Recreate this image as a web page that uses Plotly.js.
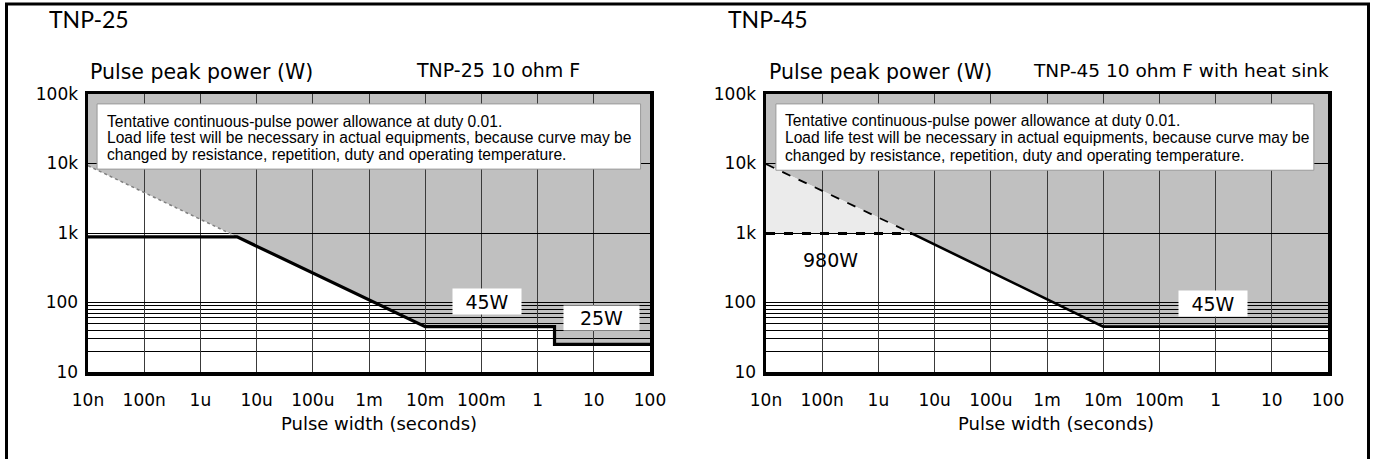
<!DOCTYPE html>
<html><head><meta charset="utf-8">
<script src="https://cdn.plot.ly/plotly-3.0.1.min.js"></script>
<style>html,body{margin:0;padding:0;background:#fff;}#chart{width:1375px;height:459px;}</style>
</head><body><div id="chart"></div>
<script>
// ---- tick labels ----
const xTickVals = [1e-8, 1e-7, 1e-6, 1e-5, 1e-4, 1e-3, 1e-2, 1e-1, 1, 10, 100];
const xTickText = ['10n', '100n', '1u', '10u', '100u', '1m', '10m', '100m', '1', '10', '100'];
const yTickVals = [10, 100, 1000, 10000, 100000];
const yTickText = ['10', '100', '1k', '10k', '100k'];
const yMinorVals = [20, 30, 40, 50, 60, 70, 80, 90];

// ---- TNP-25 (10 ohm F) ----
const tnp25RatedX = [1e-8, 4.5e-6, 1e-2, 2, 2, 100];
const tnp25RatedY = [880, 880, 45, 45, 25, 25];
const tnp25DutyX = [1e-8, 4.5e-6];
const tnp25DutyY = [9300, 880];

// ---- TNP-45 (10 ohm F with heat sink) ----
const tnp45RatedX = [4e-6, 1e-2, 100];
const tnp45RatedY = [980, 45, 45];
const tnp45DutyX = [1e-8, 4e-6];
const tnp45DutyY = [9800, 980];
const tnp45CapX = [1e-8, 4e-6];
const tnp45CapY = [980, 980];

const X_MIN = 1e-8, X_MAX = 100, Y_MIN = 10, Y_MAX = 100000;

function fmt(v) { return v.toFixed(12).replace(/0+$/, '').replace(/\.$/, ''); }
function pathOf(xs, ys) {
  return 'M' + xs.map((x, i) => fmt(x) + ',' + fmt(ys[i])).join('L') + 'Z';
}
function grayRegion(dx, dy, rx, ry) {
  const lastX = dx[dx.length - 1];
  const xs = [X_MIN].concat(dx), ys = [Y_MAX].concat(dy);
  rx.forEach((x, i) => { if (x > lastX) { xs.push(x); ys.push(ry[i]); } });
  xs.push(X_MAX); ys.push(Y_MAX);
  return pathOf(xs, ys);
}

const FONT = 'DejaVu Sans, Arial, sans-serif';
const NOTEFONT = 'Liberation Sans, Arial, sans-serif';
const L = Math.log10;

const traces = [
  {x: tnp25DutyX, y: tnp25DutyY, xaxis: 'x', yaxis: 'y', mode: 'lines',
   line: {color: '#808080', width: 1.5, dash: 'dot'}, hoverinfo: 'skip'},
  {x: tnp25RatedX, y: tnp25RatedY, xaxis: 'x', yaxis: 'y', mode: 'lines',
   line: {color: '#000', width: 3.2}, hoverinfo: 'skip'},
  {x: tnp45CapX, y: tnp45CapY, xaxis: 'x2', yaxis: 'y2', mode: 'lines',
   line: {color: '#000', width: 3, dash: 'dash'}, hoverinfo: 'skip'},
  {x: tnp45DutyX, y: tnp45DutyY, xaxis: 'x2', yaxis: 'y2', mode: 'lines',
   line: {color: '#000', width: 1.8, dash: 'dash'}, hoverinfo: 'skip'},
  {x: tnp45RatedX, y: tnp45RatedY, xaxis: 'x2', yaxis: 'y2', mode: 'lines',
   line: {color: '#000', width: 2.6}, hoverinfo: 'skip'}
];

function xaxis(domain, anchor) {
  return {domain: domain, anchor: anchor, type: 'log', range: [L(X_MIN), L(X_MAX)],
    tickmode: 'array', tickvals: xTickVals, ticktext: xTickText, ticks: '',
    ticklabelstandoff: 10,
    tickfont: {family: FONT, size: 17, color: '#000'},
    showgrid: true, gridcolor: '#3a3a3a', gridwidth: 1,
    showline: true, linecolor: '#000', linewidth: 3.5, mirror: true, zeroline: false, fixedrange: true};
}
function yaxis(domain, anchor) {
  return {domain: domain, anchor: anchor, type: 'log', range: [L(Y_MIN), L(Y_MAX)],
    tickmode: 'array', tickvals: yTickVals, ticktext: yTickText, ticks: '',
    ticklabelstandoff: 3,
    tickfont: {family: FONT, size: 17, color: '#000'},
    showgrid: true, gridcolor: '#000', gridwidth: 1,
    minor: {tickmode: 'array', tickvals: yMinorVals, showgrid: true, gridcolor: '#000', gridwidth: 1, ticks: ''},
    showline: true, linecolor: '#000', linewidth: 3.5, mirror: true, zeroline: false, fixedrange: true};
}

const W = 1375, H = 459;
const px = v => v / W, py = v => 1 - v / H;
const yDom = [py(372), py(94)];

const shapes = [
  {type: 'path', xref: 'x', yref: 'y', layer: 'below', line: {width: 0}, fillcolor: '#c0c0c0',
   path: grayRegion(tnp25DutyX, tnp25DutyY, tnp25RatedX, tnp25RatedY)},
  {type: 'path', xref: 'x2', yref: 'y2', layer: 'below', line: {width: 0}, fillcolor: '#c0c0c0',
   path: grayRegion(tnp45DutyX, tnp45DutyY, tnp45RatedX, tnp45RatedY)},
  {type: 'path', xref: 'x2', yref: 'y2', layer: 'below', line: {width: 0}, fillcolor: '#ebebeb',
   path: pathOf(tnp45DutyX.concat([tnp45CapX[0]]), tnp45DutyY.concat([tnp45CapY[0]]))},
  {type: 'rect', xref: 'x', yref: 'y', layer: 'above', x0: 1.45e-8, x1: 68, y0: 8300, y1: 72000,
   fillcolor: '#fff', line: {color: '#9a9a9a', width: 1}},
  {type: 'rect', xref: 'x2', yref: 'y2', layer: 'above', x0: 1.5e-8, x1: 56, y0: 8000, y1: 72000,
   fillcolor: '#fff', line: {color: '#9a9a9a', width: 1}},
  {type: 'rect', xref: 'paper', yref: 'paper', layer: 'above', x0: px(6.5), x1: px(1368.5), y0: -0.2, y1: py(4),
   fillcolor: 'rgba(0,0,0,0)', line: {color: '#000', width: 3}}
];

const NOTE = ['Tentative continuous-pulse power allowance at duty 0.01.',
  'Load life test will be necessary in actual equipments, because curve may be',
  'changed by resistance, repetition, duty and operating temperature.'];

const ann = [];
function txt(o) { ann.push(Object.assign({showarrow: false, font: {family: FONT, size: 18, color: '#000'}}, o)); }

// headings
txt({xref: 'paper', yref: 'paper', x: px(47), y: py(19), xanchor: 'left', yanchor: 'middle', text: 'TNP-25',
     font: {family: 'Lato, Noto Sans, sans-serif', size: 23, color: '#000'}});
txt({xref: 'paper', yref: 'paper', x: px(726), y: py(19), xanchor: 'left', yanchor: 'middle', text: 'TNP-45',
     font: {family: 'Lato, Noto Sans, sans-serif', size: 23, color: '#000'}});
txt({xref: 'paper', yref: 'paper', x: px(88), y: py(72), xanchor: 'left', yanchor: 'middle', text: 'Pulse peak power (W)',
     font: {family: FONT, size: 20.5, color: '#000'}});
txt({xref: 'paper', yref: 'paper', x: px(767), y: py(72), xanchor: 'left', yanchor: 'middle', text: 'Pulse peak power (W)',
     font: {family: FONT, size: 20.5, color: '#000'}});
txt({xref: 'paper', yref: 'paper', x: px(414), y: py(70), xanchor: 'left', yanchor: 'middle', text: 'TNP-25 10 ohm F',
     font: {family: FONT, size: 19, color: '#000'}});
txt({xref: 'paper', yref: 'paper', x: px(1031), y: py(70), xanchor: 'left', yanchor: 'middle', text: 'TNP-45 10 ohm F with heat sink',
     font: {family: FONT, size: 18.5, color: '#000'}});
txt({xref: 'paper', yref: 'paper', x: px(379), y: py(423), xanchor: 'center', yanchor: 'middle', text: 'Pulse width (seconds)'});
txt({xref: 'paper', yref: 'paper', x: px(1056), y: py(423), xanchor: 'center', yanchor: 'middle', text: 'Pulse width (seconds)'});

// note boxes
const noteY25 = [4.61, 4.37, 4.13], noteY45 = [4.624, 4.371, 4.119];
NOTE.forEach((t, i) => {
  txt({xref: 'x', yref: 'y', x: -7.70, y: noteY25[i], xanchor: 'left', yanchor: 'middle', text: t,
       font: {family: NOTEFONT, size: 15.6, color: '#000'}});
  txt({xref: 'x2', yref: 'y2', x: -7.695, y: noteY45[i], xanchor: 'left', yanchor: 'middle', text: t,
       font: {family: NOTEFONT, size: 15.6, color: '#000'}});
});

// level labels
const LVL = {family: FONT, size: 19, color: '#000'};
txt({xref: 'x', yref: 'y', x: -0.9, y: 2.016, text: '45W', bgcolor: '#fff', width: 64, height: 21, borderpad: 2, font: LVL});
txt({xref: 'x', yref: 'y', x: 1.13, y: 1.77, text: '25W', bgcolor: '#fff', width: 71, height: 20, borderpad: 2, font: LVL});
txt({xref: 'x2', yref: 'y2', x: -0.05, y: 1.98, text: '45W', bgcolor: '#fff', width: 64, height: 21, borderpad: 2, font: LVL});
txt({xref: 'x2', yref: 'y2', x: -6.86, y: 2.61, text: '980W', font: LVL});

const layout = {
  width: W, height: H, autosize: false,
  margin: {l: 0, r: 0, t: 0, b: 0, pad: 0},
  paper_bgcolor: '#fff', plot_bgcolor: '#fff', showlegend: false,
  xaxis: xaxis([px(88), px(650)], 'y'),
  yaxis: yaxis(yDom, 'x'),
  xaxis2: xaxis([px(766), px(1328)], 'y2'),
  yaxis2: yaxis(yDom, 'x2'),
  shapes: shapes, annotations: ann
};

Plotly.newPlot('chart', traces, layout, {staticPlot: true, displayModeBar: false});
</script>
</body></html>
